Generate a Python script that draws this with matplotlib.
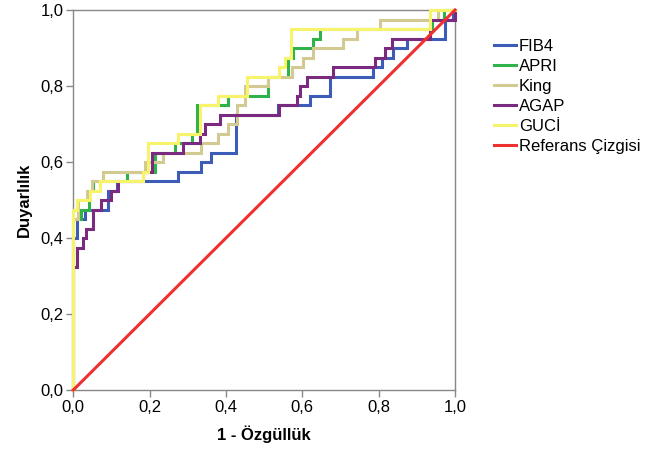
import matplotlib
matplotlib.use("Agg")
import matplotlib.pyplot as plt
from matplotlib.ticker import FuncFormatter

# ROC corner points (1 - specificity, sensitivity); curve rises first, then runs right
fib4_fpr = [0, 0.01, 0.03, 0.09, 0.115, 0.275, 0.335, 0.36, 0.425, 0.535, 0.62, 0.672, 0.785, 0.81, 0.838, 0.875, 0.975, 0.995, 1.0]
fib4_tpr = [0, 0.40, 0.45, 0.475, 0.525, 0.55, 0.575, 0.60, 0.625, 0.725, 0.75, 0.775, 0.825, 0.85, 0.875, 0.90, 0.925, 0.975, 1.0]

apri_fpr = [0, 0.02, 0.04, 0.052, 0.14, 0.214, 0.267, 0.31, 0.325, 0.406, 0.51, 0.563, 0.575, 0.628, 0.646, 0.94, 0.97, 1.0]
apri_tpr = [0, 0.45, 0.475, 0.525, 0.55, 0.575, 0.625, 0.65, 0.675, 0.75, 0.775, 0.825, 0.875, 0.90, 0.925, 0.95, 0.975, 1.0]

king_fpr = [0, 0.012, 0.035, 0.05, 0.078, 0.188, 0.235, 0.335, 0.38, 0.405, 0.428, 0.45, 0.51, 0.572, 0.603, 0.629, 0.707, 0.742, 0.803, 0.955, 1.0]
king_tpr = [0, 0.45, 0.50, 0.525, 0.55, 0.575, 0.60, 0.625, 0.65, 0.675, 0.70, 0.75, 0.80, 0.825, 0.85, 0.875, 0.90, 0.925, 0.95, 0.975, 1.0]

agap_fpr = [0, 0.01, 0.025, 0.034, 0.052, 0.073, 0.10, 0.117, 0.183, 0.205, 0.288, 0.332, 0.345, 0.384, 0.538, 0.585, 0.594, 0.611, 0.681, 0.79, 0.816, 0.834, 0.935, 1.0, 1.0]
agap_tpr = [0, 0.325, 0.375, 0.40, 0.425, 0.475, 0.50, 0.525, 0.55, 0.575, 0.625, 0.65, 0.675, 0.70, 0.725, 0.75, 0.775, 0.80, 0.825, 0.85, 0.875, 0.90, 0.925, 0.975, 1.0]

guci_fpr = [0, 0.01, 0.045, 0.07, 0.183, 0.196, 0.275, 0.332, 0.38, 0.454, 0.54, 0.555, 0.57, 0.935, 1.0]
guci_tpr = [0, 0.475, 0.50, 0.525, 0.55, 0.575, 0.65, 0.675, 0.75, 0.775, 0.825, 0.85, 0.875, 0.95, 1.0]

ref_x = [0, 1]
ref_y = [0, 1]

labels = ["FIB4", "APRI", "King", "AGAP", "GUCİ", "Referans Çizgisi"]
colors = ["#3d5cb8", "#2db34a", "#d2ca90", "#7a2a7f", "#f7f36a", "#ee3030"]

plt.rcParams['font.family'] = ['Liberation Sans', 'DejaVu Sans']

fig = plt.figure(figsize=(6.62, 4.51), dpi=100)
ax = fig.add_axes([73.3/662, 1-390/451, (455-73.3)/662, 380/451])

series = [(fib4_fpr, fib4_tpr), (apri_fpr, apri_tpr), (king_fpr, king_tpr),
          (agap_fpr, agap_tpr), (guci_fpr, guci_tpr)]
for (xs, ys), lab, col in zip(series, labels[:5], colors[:5]):
    ax.plot(xs, ys, drawstyle='steps-pre', color=col, lw=2.2, label=lab,
            solid_joinstyle='miter', clip_on=False)
ax.plot(ref_x, ref_y, color=colors[5], lw=2.2, label=labels[5], clip_on=False)

ax.set_xlim(0, 1)
ax.set_ylim(0, 1)
ticks = [0, 0.2, 0.4, 0.6, 0.8, 1.0]
ax.set_xticks(ticks)
ax.set_yticks(ticks)
fmt = FuncFormatter(lambda v, p: f"{v:.1f}".replace(".", ","))
ax.xaxis.set_major_formatter(fmt)
ax.yaxis.set_major_formatter(fmt)
ax.tick_params(direction='out', length=5, width=1, color='#888888',
               labelsize=12, pad=2, labelcolor='black')
for s in ax.spines.values():
    s.set_color('#888888')
    s.set_linewidth(1)
    s.set_zorder(0.5)

ax.set_xlabel("1 - Özgüllük", fontsize=12, fontweight='bold', labelpad=8)
ax.set_ylabel("Duyarlılık", fontsize=12, fontweight='bold', labelpad=6)

leg = ax.legend(loc='upper left', bbox_to_anchor=(494/662, 1-39/451),
                bbox_transform=fig.transFigure, frameon=False, fontsize=12,
                handlelength=1.3, handletextpad=0.2, labelspacing=0.3,
                borderpad=0, borderaxespad=0)
for h in leg.get_lines():
    h.set_linewidth(2.2)

fig.savefig("out.png", dpi=100)
